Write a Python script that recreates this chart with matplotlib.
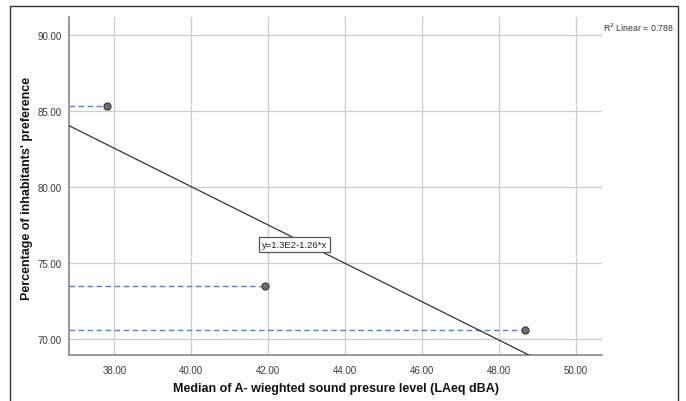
import matplotlib
matplotlib.use("Agg")
import matplotlib.pyplot as plt
import numpy as np
from matplotlib.patches import Rectangle

plt.rcParams["font.family"] = ["Liberation Sans", "DejaVu Sans"]

# median LAeq (dBA) vs percentage preference
laeq = [37.80, 41.91, 48.69]
preference = [85.33, 73.49, 70.59]
x_ticks = [38, 40, 42, 44, 46, 48, 50]
y_ticks = [70, 75, 80, 85, 90]
r2_text = "R$^2$ Linear = 0.788"
eq_text = "y=1.3E2-1.26*x"

XLIM = (36.82, 50.68)
YLIM = (68.93, 91.16)

W, H = 686, 402
fig = plt.figure(figsize=(6.86, 4.02), dpi=100)
ax = fig.add_axes([69 / W, 1 - 356 / H, (602 - 69) / W, (356 - 18) / H])

# outer frame
fig.patches.append(Rectangle((10 / W, -0.1), (678 - 10) / W, 0.1 + 1 - 7 / H,
                             transform=fig.transFigure, fill=False,
                             edgecolor="#333333", linewidth=1.0))

ax.set_xlim(*XLIM)
ax.set_ylim(*YLIM)
ax.set_xticks(x_ticks)
ax.set_xticklabels([f"{v:.2f}" for v in x_ticks])
ax.set_yticks(y_ticks)
ax.set_yticklabels([f"{v:.2f}" for v in y_ticks])
ax.tick_params(length=0, labelsize=7, colors="#3a3a3a")
ax.tick_params(axis="y", pad=5)
ax.tick_params(axis="x", pad=7)
ax.grid(True, color="#cccccc", linewidth=0.9)
ax.set_axisbelow(True)
for side in ["top", "right"]:
  ax.spines[side].set_visible(False)
for side in ["left", "bottom"]:
  ax.spines[side].set_color("#888888")
  ax.spines[side].set_linewidth(1.2)

# reference dashes from the y-axis to each point
for xv, yv in zip(laeq, preference):
  ax.plot([XLIM[0], xv], [yv, yv], color="#4f7fd0", linestyle=(0, (4, 2.5)),
          linewidth=1.0, zorder=2)

ax.scatter(laeq, preference, s=26, color="#6e6e6e", edgecolor="#333333",
           linewidth=0.8, zorder=4)

# linear fit
slope, intercept = np.polyfit(laeq, preference, 1)
xs = np.array(XLIM)
ax.plot(xs, intercept + slope * xs, color="#333333", linewidth=0.9, zorder=3)

ax.text(42.68, 76.18, eq_text, fontsize=6.8, ha="center", va="center", color="#222222",
        bbox=dict(boxstyle="square,pad=0.3", facecolor="white", edgecolor="#555555",
                  linewidth=0.9), zorder=5)

fig.text(603 / W, 1 - 28 / H, r2_text, fontsize=6.3, ha="left", va="center",
         color="#333333")

fig.text(336 / W, 1 - 389 / H, "Median of A- wieghted sound presure level (LAeq dBA)",
         fontsize=9, fontweight="bold", ha="center", va="center", color="#111111")
fig.text(27.5 / W, 1 - 188 / H, "Percentage of inhabitants' preference",
         fontsize=9, fontweight="bold", ha="center", va="center", rotation=90,
         color="#111111")

fig.savefig("out.png", dpi=100)
